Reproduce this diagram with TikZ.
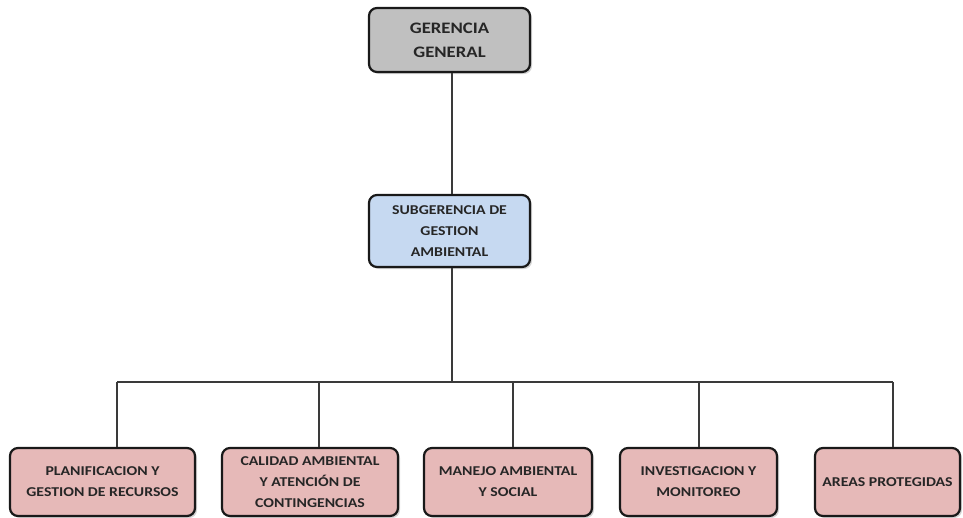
\documentclass[tikz,border=0pt]{standalone}
\usepackage{fontspec}
\setmainfont{Carlito}[FakeStretch=1.17]
\usetikzlibrary{shadows}
\definecolor{boxgray}{HTML}{C0C0C0}
\definecolor{boxblue}{HTML}{C6D9F1}
\definecolor{boxpink}{HTML}{E6B9B8}
\definecolor{linegray}{HTML}{3A3A3A}
\definecolor{inkgray}{HTML}{262626}
\tikzset{
  orgbox/.style={draw=black!90, line width=2.2pt, rounded corners=8pt,
    align=center, font=\bfseries\fontsize{13.5}{21}\selectfont, text=inkgray,
    inner sep=0pt,
    drop shadow={opacity=0.35, shadow xshift=2pt, shadow yshift=-2pt}},
  topbox/.style={orgbox, fill=boxgray, font=\bfseries\fontsize{16}{24}\selectfont},
  midbox/.style={orgbox, fill=boxblue},
  unitbox/.style={orgbox, fill=boxpink},
  link/.style={draw=linegray, line width=1.4pt},
  bar/.style={draw=linegray, line width=2.4pt}
}
\begin{document}
\begin{tikzpicture}[x=1pt, y=-1pt]
\useasboundingbox (0,0) rectangle (963,517);

% management levels
\node[topbox, minimum width=161pt, minimum height=64pt] (ger) at (449.5,40)
  {GERENCIA\\GENERAL};
\node[midbox, minimum width=161pt, minimum height=72pt] (sub) at (449.5,231)
  {SUBGERENCIA DE\\GESTION\\AMBIENTAL};

% operating units
\node[unitbox, minimum width=185pt, minimum height=68pt] (b1) at (102.5,482)
  {PLANIFICACION Y\\GESTION DE RECURSOS};
\node[unitbox, minimum width=176pt, minimum height=68pt] (b2) at (310,482)
  {CALIDAD AMBIENTAL\\Y ATENCIÓN DE\\CONTINGENCIAS};
\node[unitbox, minimum width=168pt, minimum height=68pt] (b3) at (508,482)
  {MANEJO AMBIENTAL\\Y SOCIAL};
\node[unitbox, minimum width=157pt, minimum height=68pt] (b4) at (698.5,482)
  {INVESTIGACION Y\\MONITOREO};
\node[unitbox, minimum width=145pt, minimum height=68pt] (b5) at (887.5,482)
  {AREAS PROTEGIDAS};

% junction points on the distribution bar
\coordinate (j)  at (452,382);
\coordinate (d1) at (117,382);
\coordinate (d2) at (319,382);
\coordinate (d3) at (513,382);
\coordinate (d4) at (699,382);
\coordinate (d5) at (893,382);

% connectors
\draw[link] (j |- ger.south) -- (j |- sub.north);
\draw[link] (j |- sub.south) -- (j);
\draw[bar] (d1) -- (d5);
\draw[link] (d1) -- (d1 |- b1.north);
\draw[link] (d2) -- (d2 |- b2.north);
\draw[link] (d3) -- (d3 |- b3.north);
\draw[link] (d4) -- (d4 |- b4.north);
\draw[link] (d5) -- (d5 |- b5.north);
\end{tikzpicture}
\end{document}
